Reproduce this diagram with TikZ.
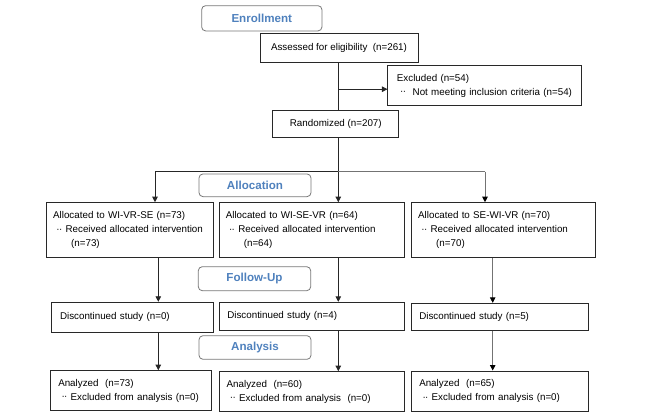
\documentclass[tikz,border=0pt]{standalone}
\usepackage{fontspec}
\setmainfont{Liberation Sans}
\usetikzlibrary{arrows.meta}
\definecolor{stageblue}{RGB}{79,129,189}
\definecolor{boxline}{RGB}{40,40,40}
\definecolor{stageline}{RGB}{120,120,120}
\newcommand{\dd}{\raisebox{0.1ex}{\char"00B7\kern-0.6pt\char"00B7}}
\begin{document}
\begin{tikzpicture}[x=1pt,y=-1pt,
  every node/.style={font=\fontsize{9.8}{14.3}\selectfont},
  box/.style={draw=boxline,line width=1pt,rectangle,inner xsep=6.5pt,inner ysep=0pt,align=left,fill=white},
  cbox/.style={draw=boxline,line width=1pt,rectangle,inner sep=0pt,align=center},
  stage/.style={draw=stageline,line width=0.8pt,rounded corners=4pt,inner sep=0pt,
     text=stageblue,font=\fontsize{11.6}{13}\selectfont\bfseries},
  conn/.style={draw=black!85,line width=0.8pt},
  arr/.style={conn,-{Triangle[width=5.5pt,length=5.5pt]}},
  arrg/.style={draw=black!55,line width=0.8pt,-{Triangle[width=5.5pt,length=5.5pt,fill=black,color=black]}}
]
\useasboundingbox (0,0) rectangle (646,418);
% stage labels
\node[stage,minimum width=120.3pt,minimum height=25.3pt] (enroll) at (261.8,18.3) {Enrollment};
\node[stage,minimum width=112pt,minimum height=22.7pt] (alloc) at (255,185.3) {Allocation};
\node[stage,minimum width=112.4pt,minimum height=24pt] (follow) at (254.5,278.7) {Follow-Up};
\node[stage,minimum width=112pt,minimum height=23.6pt] (analysis) at (255,347.5) {Analysis};
% top boxes
\node[cbox,minimum width=158pt,minimum height=29pt] (assess) at (339,47.5) {Assessed for eligibility\ \ (n=261)};
\node[box,inner xsep=9pt,minimum width=193.7pt,minimum height=40pt,text width=175.7pt] (excl) at (484.8,85.7)
  {Excluded (n=54)\\\ \dd\ \ Not meeting inclusion criteria (n=54)};
\node[cbox,minimum width=126.3pt,minimum height=26.7pt] (rand) at (335.8,124.3) {Randomized (n=207)};
% allocation boxes
\node[box,minimum width=167.3pt,minimum height=54.6pt,text width=154.3pt] (a1) at (130.3,230)
  {Allocated to WI-VR-SE (n=73)\\\ \dd\ Received allocated intervention\\\hspace*{18pt}(n=73)};
\node[box,minimum width=185pt,minimum height=54.6pt,text width=172pt] (a2) at (311.8,230)
  {Allocated to WI-SE-VR (n=64)\\\ \dd\ Received allocated intervention\\\hspace*{18pt}(n=64)};
\node[box,minimum width=184pt,minimum height=54.6pt,text width=171pt] (a3) at (503.7,230)
  {Allocated to SE-WI-VR (n=70)\\\ \dd\ Received allocated intervention\\\hspace*{18pt}(n=70)};
% follow-up boxes
\node[box,inner xsep=8.3pt,minimum width=161.6pt,minimum height=30pt,text width=145pt] (d1) at (132.5,317.3) {Discontinued study (n=0)};
\node[box,inner xsep=8pt,minimum width=185pt,minimum height=27.7pt,text width=169pt] (d2) at (311.8,316.2) {Discontinued study (n=4)};
\node[box,inner xsep=7.6pt,minimum width=177.3pt,minimum height=26.7pt,text width=162.1pt] (d3) at (500.3,316.7) {Discontinued study (n=5)};
% analysis boxes
\node[box,inner xsep=7.3pt,minimum width=160.7pt,minimum height=40pt,text width=146.1pt] (n1) at (131.3,390.7)
  {Analyzed\ \ (n=73)\\\ \dd\ Excluded from analysis (n=0)};
\node[box,inner xsep=7.4pt,minimum width=185pt,minimum height=40pt,text width=170.2pt] (n2) at (311.8,391.7)
  {Analyzed\ \ (n=60)\\\ \dd\ Excluded from analysis\ \ (n=0)};
\node[box,inner xsep=7.6pt,minimum width=177.3pt,minimum height=40pt,text width=162.1pt] (n3) at (500.3,391)
  {Analyzed\ \ (n=65)\\\ \dd\ Excluded from analysis (n=0)};
% helper coordinates
\coordinate (spine) at (338.3,0);
\coordinate (split) at (338.3,171.7);
\coordinate (c1) at (155,171.7);
\coordinate (c3) at (485,171.7);
\coordinate (l1) at (158.3,0);
\coordinate (l3) at (492.7,0);
\coordinate (exin) at ([yshift=-3.5pt]excl.west);
% connectors
\draw[conn] (assess.south -| spine) -- (rand.north -| spine);
\draw[arr] (spine |- exin) -- (exin);
\draw[conn] (rand.south -| spine) -- (split);
\draw[conn] (c1) -- (split);
\draw[draw=black!55,line width=0.8pt] (split) -- (c3);
\draw[arr] (c1) -- (a1.north -| c1);
\draw[arr] (split) -- (a2.north -| split);
\draw[arrg] (c3) -- (a3.north -| c3);
\draw[arr] (a1.south -| l1) -- (d1.north -| l1);
\draw[arr] (a2.south -| spine) -- (d2.north -| spine);
\draw[arrg] (a3.south -| l3) -- (d3.north -| l3);
\draw[arr] (d1.south -| l1) -- (n1.north -| l1);
\draw[arr] (d2.south -| spine) -- (n2.north -| spine);
\draw[arrg] (d3.south -| l3) -- (n3.north -| l3);
\end{tikzpicture}
\end{document}
